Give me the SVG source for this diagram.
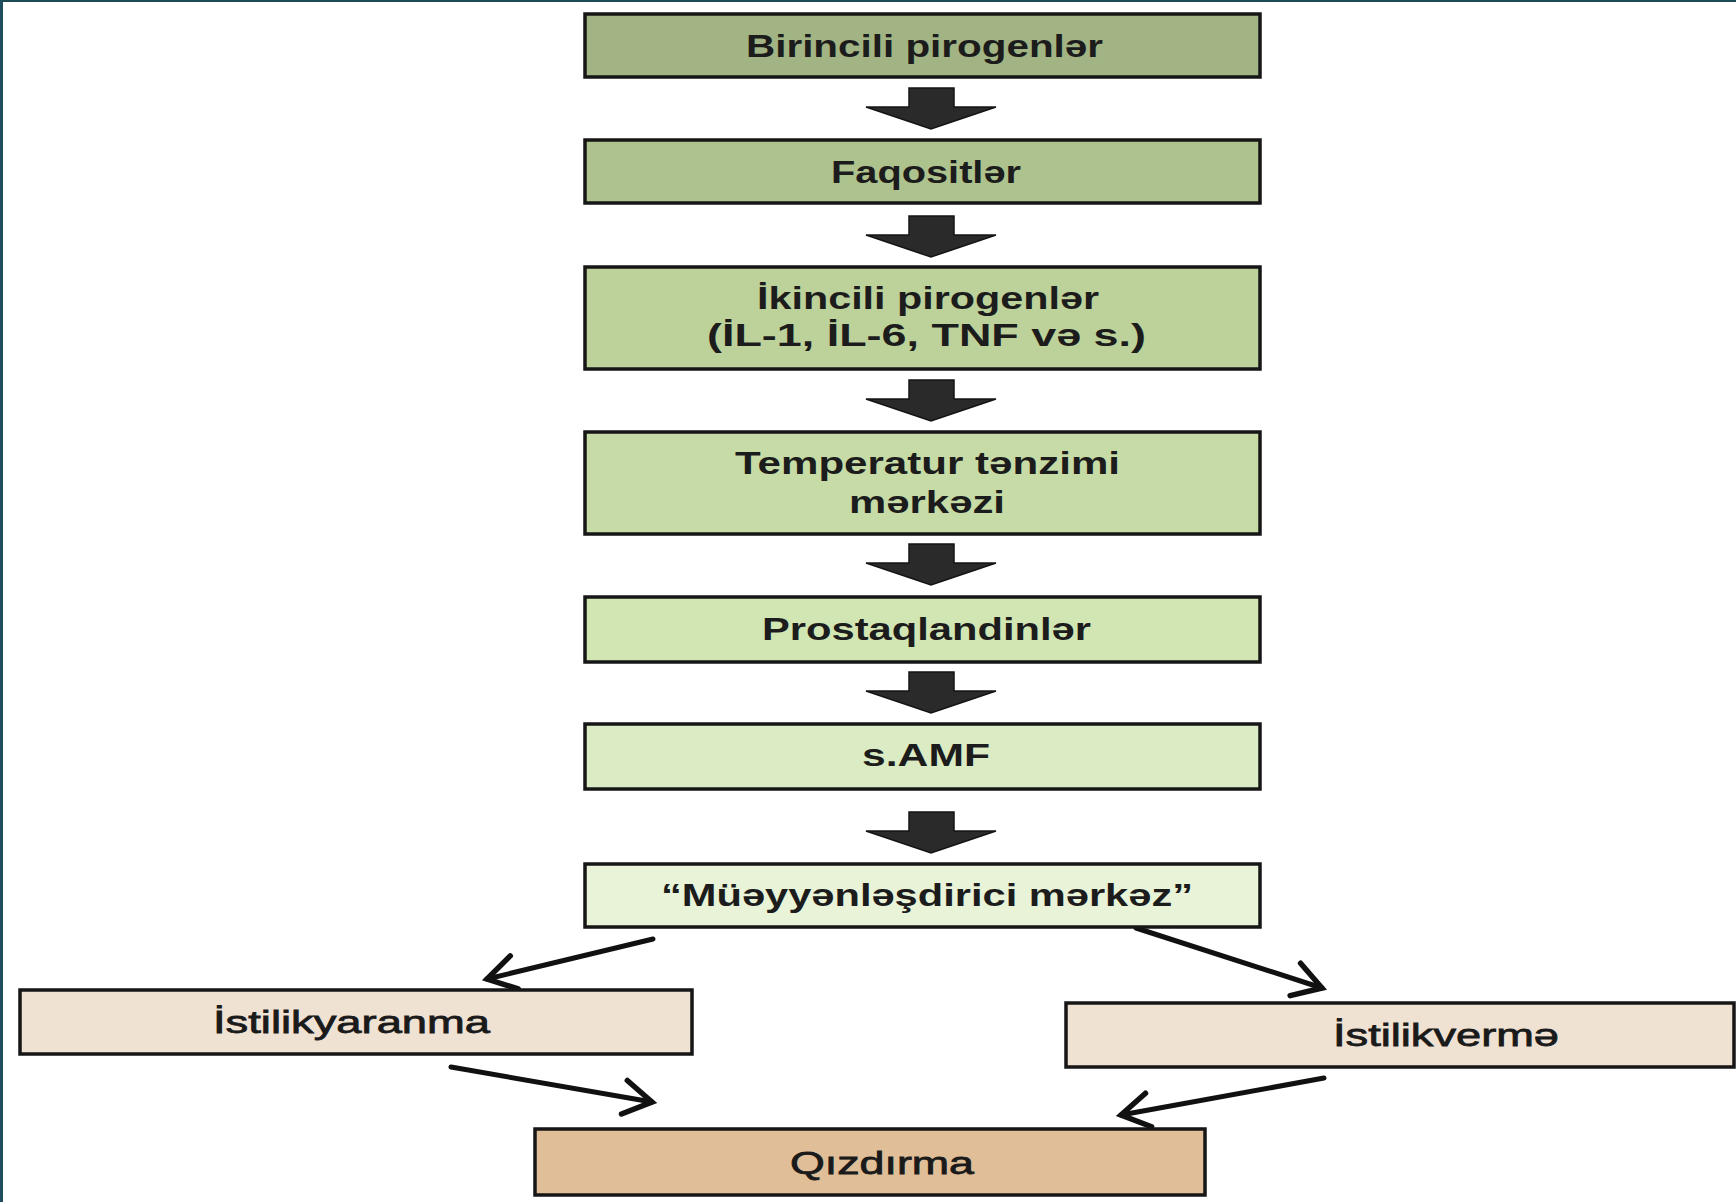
<svg xmlns="http://www.w3.org/2000/svg" width="1736" height="1202" viewBox="0 0 1736 1202">
<style>
.box{stroke:#161616;stroke-width:3.5}
.lbl{font-family:"Liberation Sans",Arial,sans-serif;font-size:32px;font-weight:bold;fill:#1c1c1c}
.lbl2{font-family:"Liberation Sans",Arial,sans-serif;font-size:32px;font-weight:normal;fill:#1a1a1a;stroke:#1a1a1a;stroke-width:0.8}
.ln{stroke:#111;stroke-width:5;fill:none;stroke-linecap:round}
.blk{fill:#2a2a2a;stroke:#141414;stroke-width:1.5;stroke-linejoin:miter}
</style>
<defs>
<marker id="chev" markerUnits="userSpaceOnUse" markerWidth="40" markerHeight="40" refX="29" refY="18" orient="auto" overflow="visible">
<path d="M1,1 L29,18 L1,35" fill="none" stroke="#111" stroke-width="5.5" stroke-linecap="round" stroke-linejoin="miter"/>
</marker>
<polygon id="blkarrow" class="blk" points="909,0 954,0 954,19 996,19 931,41 866,19 909,19"/>
</defs>
<rect x="0" y="0" width="1736" height="1202" fill="#ffffff"/>
<rect x="0" y="0" width="1736" height="2" fill="#1d4a55"/>
<rect x="0" y="0" width="3" height="1202" fill="#1f4f5e"/>

<g id="connectors">
<use href="#blkarrow" transform="translate(0,88)"/>
<use href="#blkarrow" transform="translate(0,216)"/>
<use href="#blkarrow" transform="translate(0,380)"/>
<use href="#blkarrow" transform="translate(0,544)"/>
<use href="#blkarrow" transform="translate(0,672)"/>
<use href="#blkarrow" transform="translate(0,812)"/>
<line class="ln" x1="653" y1="939" x2="487" y2="979" marker-end="url(#chev)"/>
<line class="ln" x1="1136" y1="928" x2="1322" y2="988" marker-end="url(#chev)"/>
<line class="ln" x1="451" y1="1067" x2="652" y2="1102" marker-end="url(#chev)"/>
<line class="ln" x1="1324" y1="1078" x2="1121" y2="1115" marker-end="url(#chev)"/>
</g>

<g id="n1"><rect class="box" x="585" y="14" width="675" height="63" fill="#a2b483"/>
<text class="lbl" x="746" y="57" textLength="357" lengthAdjust="spacingAndGlyphs">Birincili pirogenlər</text></g>
<g id="n2"><rect class="box" x="585" y="140" width="675" height="63" fill="#aec28d"/>
<text class="lbl" x="831" y="183" textLength="190" lengthAdjust="spacingAndGlyphs">Faqositlər</text></g>
<g id="n3"><rect class="box" x="585" y="267" width="675" height="102" fill="#bcd29a"/>
<text class="lbl" x="757" y="309" textLength="342" lengthAdjust="spacingAndGlyphs">İkincili pirogenlər</text>
<text class="lbl" x="707" y="346" textLength="439" lengthAdjust="spacingAndGlyphs">(İL-1, İL-6, TNF və s.)</text></g>
<g id="n4"><rect class="box" x="585" y="432" width="675" height="102" fill="#c6dba5"/>
<text class="lbl" x="735" y="474" textLength="385" lengthAdjust="spacingAndGlyphs">Temperatur tənzimi</text>
<text class="lbl" x="849" y="513" textLength="156" lengthAdjust="spacingAndGlyphs">mərkəzi</text></g>
<g id="n5"><rect class="box" x="585" y="597" width="675" height="65" fill="#d2e6b4"/>
<text class="lbl" x="762" y="640" textLength="329" lengthAdjust="spacingAndGlyphs">Prostaqlandinlər</text></g>
<g id="n6"><rect class="box" x="585" y="724" width="675" height="65" fill="#dbebc3"/>
<text class="lbl" x="862" y="766" textLength="128" lengthAdjust="spacingAndGlyphs">s.AMF</text></g>
<g id="n7"><rect class="box" x="585" y="864" width="675" height="63" fill="#e8f3d8"/>
<text class="lbl" x="661" y="906" textLength="532" lengthAdjust="spacingAndGlyphs">“Müəyyənləşdirici mərkəz”</text></g>
<g id="n8"><rect class="box" x="20" y="990" width="672" height="64" fill="#f0e2d3"/>
<text class="lbl2" x="213" y="1033" textLength="277" lengthAdjust="spacingAndGlyphs">İstilikyaranma</text></g>
<g id="n9"><rect class="box" x="1066" y="1003" width="668" height="64" fill="#f0e2d3"/>
<text class="lbl2" x="1333" y="1046" textLength="226" lengthAdjust="spacingAndGlyphs">İstilikvermə</text></g>
<g id="n10"><rect class="box" x="535" y="1129" width="670" height="66" fill="#e0bf98"/>
<text class="lbl2" x="790" y="1174" textLength="184" lengthAdjust="spacingAndGlyphs">Qızdırma</text></g>
</svg>
